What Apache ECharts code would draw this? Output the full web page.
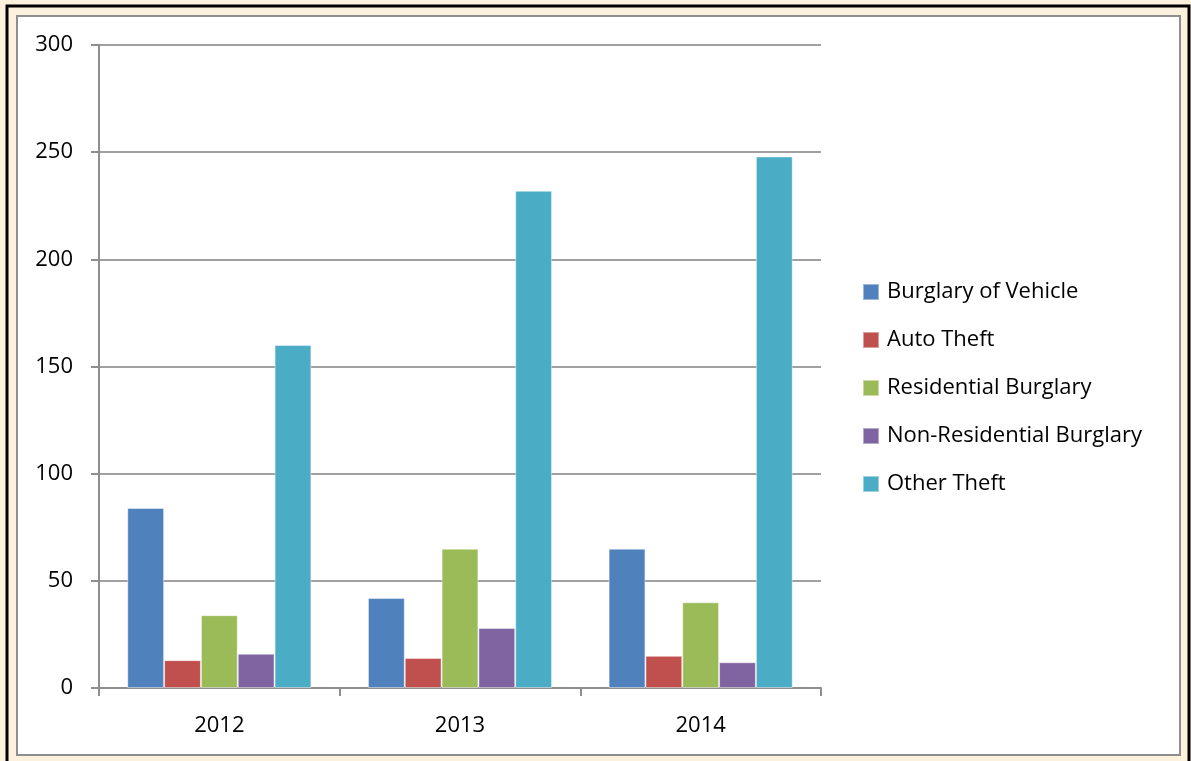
<!DOCTYPE html>
<html>
<head>
<meta charset="utf-8">
<script src="https://cdn.jsdelivr.net/npm/echarts@6/dist/echarts.min.js"></script>
<style>
  html, body { margin: 0; padding: 0; background: #fbf1dc; }
  #chart { width: 1191px; height: 761px; }
</style>
</head>
<body>
<div id="chart"></div>
<script>
// years on the x axis
const years = ["2012", "2013", "2014"];
// one array per crime type
const burglaryOfVehicle = [84, 42, 65];
const autoTheft = [13, 14, 15];
const residentialBurglary = [34, 65, 40];
const nonResidentialBurglary = [16, 28, 12];
const otherTheft = [160, 232, 248];
const yTicks = [0, 50, 100, 150, 200, 250, 300];

const seriesNames = ["Burglary of Vehicle", "Auto Theft", "Residential Burglary", "Non-Residential Burglary", "Other Theft"];
const seriesData = [burglaryOfVehicle, autoTheft, residentialBurglary, nonResidentialBurglary, otherTheft];
const colors = ["#4f81bd", "#c0504d", "#9bbb59", "#8064a2", "#4bacc6"];

const font = "Open Sans, Liberation Sans, sans-serif";
let chart = echarts.init(document.getElementById("chart"));
chart.setOption({
  animation: false,
  color: colors,
  textStyle: { fontFamily: font },
  graphic: [
    {
      type: "rect",
      shape: { x: 7, y: 6, width: 1182, height: 770 },
      style: { fill: "#fbf1dc", stroke: "#000", lineWidth: 3 },
      z: -10
    },
    {
      type: "rect",
      shape: { x: 17, y: 16, width: 1163, height: 739 },
      style: { fill: "#fff", stroke: "#8e8e8e", lineWidth: 2 },
      z: -9
    }
  ],
  grid: { left: 99, top: 45, width: 722, height: 643 },
  legend: {
    orient: "vertical",
    left: 857,
    top: 276,
    icon: "rect",
    itemWidth: 16,
    itemHeight: 16,
    itemGap: 26,
    textStyle: { fontSize: 22, color: "#000", fontFamily: font, padding: [0, 0, 0, 3] },
    data: seriesNames
  },
  xAxis: {
    type: "category",
    data: years,
    axisLine: { lineStyle: { color: "#8e8e8e", width: 2 } },
    axisTick: { show: true, length: 8, lineStyle: { color: "#8e8e8e", width: 2 } },
    axisLabel: { fontSize: 22, color: "#000", margin: 27 }
  },
  yAxis: {
    type: "value",
    min: yTicks[0],
    max: yTicks[yTicks.length - 1],
    interval: 50,
    axisLine: { show: true, lineStyle: { color: "#8e8e8e", width: 2 } },
    axisTick: { show: true, length: 8, lineStyle: { color: "#8e8e8e", width: 2 } },
    axisLabel: { fontSize: 22, color: "#000", margin: 26 },
    splitLine: { lineStyle: { color: "#a0a0a0", width: 2 } }
  },
  series: seriesNames.map((name, i) => ({
    name: name,
    type: "bar",
    data: seriesData[i],
    barGap: "0%",
    barCategoryGap: "23.5%",
    itemStyle: { borderColor: "rgba(255,255,255,0.45)", borderWidth: 1 }
  }))
});
</script>
</body>
</html>
